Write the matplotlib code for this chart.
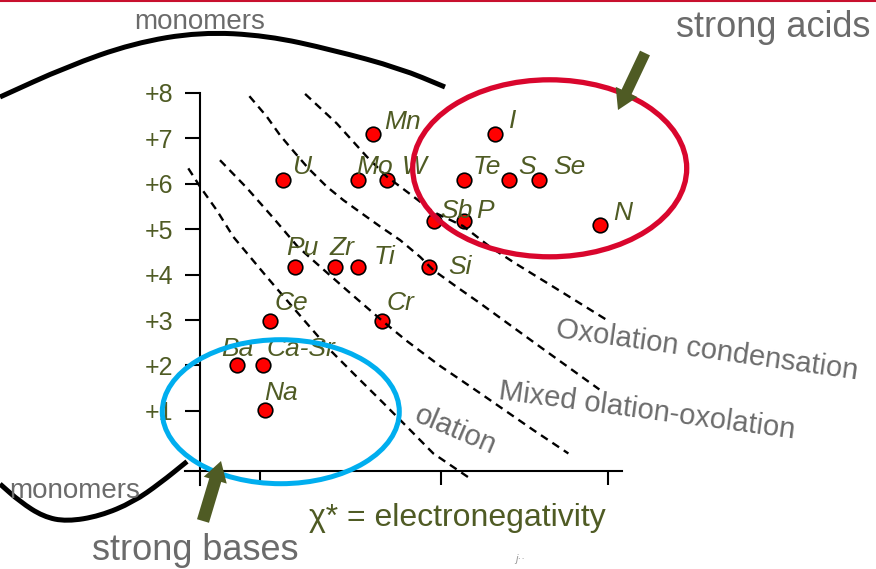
import matplotlib
matplotlib.use('Agg')
import matplotlib.pyplot as plt
from matplotlib.patches import Ellipse, FancyArrow, PathPatch
from matplotlib.path import Path

plt.rcParams['font.family'] = ['Liberation Sans', 'DejaVu Sans']

OLIVE = '#4f5b24'
GREY = '#6b6b6b'
RED_RING = '#d9062d'
BLUE_RING = '#00aeef'

# oxidation state (y) against electronegativity (x)
elements = ['U', 'Mn', 'Mo', 'W', 'I', 'Te', 'S', 'Se', 'Sb', 'P', 'N',
            'Pu', 'Zr', 'Ti', 'Si', 'Ce', 'Cr', 'Ba', 'Ca-Sr', 'Na']
chi = [1.13, 1.65, 1.565, 1.73, 2.35, 2.17, 2.43, 2.605, 2.0, 2.17, 2.955,
       1.20, 1.43, 1.565, 1.97, 1.06, 1.70, 0.87, 1.02, 1.03]
charge = [6.08, 7.09, 6.08, 6.08, 7.09, 6.08, 6.08, 6.08, 5.17, 5.17, 5.09,
          4.17, 4.17, 4.17, 4.17, 2.98, 2.98, 2.01, 2.01, 1.02]

y_ticks = [1, 2, 3, 4, 5, 6, 7, 8]
y_ticklabels = ['+1', '+2', '+3', '+4', '+5', '+6', '+7', '+8']
x_ticks = [1.0, 2.04, 3.0]

# dashed boundaries between olation / mixed / oxolation domains
bound_a_x = [0.588, 0.655, 0.751, 0.847, 0.943, 1.039, 1.153, 1.268, 1.402, 1.556, 1.709, 1.862, 1.996, 2.207]
bound_a_y = [6.34, 5.94, 5.42, 4.83, 4.39, 3.95, 3.44, 2.93, 2.34, 1.75, 1.17, 0.58, 0.06, -0.49]
bound_b_x = [0.770, 0.924, 1.076, 1.218, 1.362, 1.498, 1.703, 1.843, 2.034, 2.264, 2.569, 2.772]
bound_b_y = [6.52, 5.91, 5.25, 4.61, 4.12, 3.66, 2.98, 2.54, 1.99, 1.39, 0.58, 0.06]
bound_c_x = [0.939, 1.039, 1.115, 1.201, 1.278, 1.383, 1.479, 1.584, 1.690, 1.805, 1.920, 1.996, 2.130, 2.264, 2.609, 2.950]
bound_c_y = [7.93, 7.48, 7.07, 6.68, 6.34, 5.94, 5.64, 5.35, 5.06, 4.76, 4.39, 4.10, 3.73, 3.37, 2.41, 1.47]
bound_d_x = [1.259, 1.441, 1.613, 1.728, 1.881, 1.996, 2.167, 2.322, 2.466, 2.724, 2.993]
bound_d_y = [7.98, 7.33, 6.60, 6.16, 5.72, 5.38, 5.07, 4.61, 4.25, 3.64, 3.00]

# "monomers" guide curves, in slide pixels
top_curve = [(0, 97), (66.7, 66.7), (133, 43.3), (200, 32), (266.7, 35.5),
             (333, 50), (400, 68.3), (445, 87)]
bottom_curve = [(0, 484), (20, 501.7), (43.3, 516.7), (66.7, 521.5), (100, 516),
                (133.3, 502), (160, 483.3), (187, 461.5)]

# label offsets (points) from each dot
label_offsets = [(6.5, 4.8), (7.9, 3.6), (-1.2, 4.8), (10.8, 4.8), (10.1, 4.3),
                 (6.8, 4.8), (6.5, 4.8), (10.1, 4.8), (4.8, 2.4), (9.1, 2.4),
                 (9.6, 3.6), (-6.5, 8.4), (-3.6, 8.4), (10.8, 1.9), (13.7, -4.8),
                 (2.9, 7.7), (3.6, 7.7), (-11.5, 6.5), (1.9, 6.5), (-0.5, 7.2)]


def smooth_path(pts):
    # quadratic smoothing through the midpoints of the polyline
    verts = [pts[0], ((pts[0][0] + pts[1][0]) / 2, (pts[0][1] + pts[1][1]) / 2)]
    codes = [Path.MOVETO, Path.LINETO]
    for i in range(1, len(pts) - 1):
        mid = ((pts[i][0] + pts[i + 1][0]) / 2, (pts[i][1] + pts[i + 1][1]) / 2)
        verts += [pts[i], mid]
        codes += [Path.CURVE3, Path.CURVE3]
    verts.append(pts[-1])
    codes.append(Path.LINETO)
    return Path(verts, codes)


fig = plt.figure(figsize=(8.76, 5.69), dpi=100)
fig.patch.set_facecolor('white')

ax = fig.add_axes([185 / 876, 84 / 569, 437 / 876, 392 / 569])
ax.set_xlim(0.569, 3.080)
ax.set_ylim(-0.634, 8.0)
ax.patch.set_alpha(0)
for side in ['top', 'right']:
    ax.spines[side].set_visible(False)
ax.spines['left'].set_position(('data', 0.655))
ax.spines['bottom'].set_position(('data', -0.319))
ax.spines['left'].set_linewidth(1.5)
ax.spines['bottom'].set_linewidth(1.5)
ax.set_yticks(y_ticks)
ax.set_yticklabels(y_ticklabels)
ax.set_xticks(x_ticks)
ax.set_xticklabels([])
ax.tick_params(axis='y', direction='out', length=10.5, width=1.5, pad=9.0,
               labelsize=18, labelcolor=OLIVE)
ax.tick_params(axis='x', direction='out', length=10.3, width=1.5)

ax.plot(chi, charge, 'o', ms=10.5, mfc='#ff0000', mec='black', mew=1.2,
        zorder=3, clip_on=False)
for bx, by in [(bound_a_x, bound_a_y), (bound_b_x, bound_b_y),
               (bound_c_x, bound_c_y), (bound_d_x, bound_d_y)]:
    ax.plot(bx, by, color='black', lw=1.7, ls=(0, (3.4, 2.4)), zorder=4,
            clip_on=False)

for name, x, y, off in zip(elements, chi, charge, label_offsets):
    ax.annotate(name, (x, y), xytext=off, textcoords='offset points',
                ha='left', va='baseline', fontsize=19, style='italic',
                color=OLIVE, zorder=5)

# overlay in pixel coordinates for the slide decorations
cv = fig.add_axes([0, 0, 1, 1])
cv.set_xlim(0, 876)
cv.set_ylim(569, 0)
cv.axis('off')
cv.patch.set_alpha(0)

cv.plot([0, 876], [1, 1], color='#c8102e', lw=1.5)

for pts in [top_curve, bottom_curve]:
    cv.add_patch(PathPatch(smooth_path(pts), fill=False,
                           edgecolor='black', lw=3.6, capstyle='butt'))

cv.add_patch(Ellipse((549.7, 168.3), 274, 177, fill=False,
                     edgecolor=RED_RING, lw=3.8))
cv.add_patch(Ellipse((280.8, 411.7), 237, 144, fill=False,
                     edgecolor=BLUE_RING, lw=3.6))

cv.add_patch(FancyArrow(645, 53, -27, 57, width=11, head_width=24,
                        head_length=20, length_includes_head=True,
                        color=OLIVE, lw=0))
cv.add_patch(FancyArrow(203, 521, 18, -60, width=12.5, head_width=24,
                        head_length=20, length_includes_head=True,
                        color=OLIVE, lw=0))

cv.text(200, 29, 'monomers', ha='center', va='baseline', fontsize=20, color=GREY)
cv.text(75, 498, 'monomers', ha='center', va='baseline', fontsize=20, color=GREY)
cv.text(773, 37, 'strong acids', ha='center', va='baseline', fontsize=26, color=GREY)
cv.text(195, 560, 'strong bases', ha='center', va='baseline', fontsize=26, color=GREY)
cv.text(457, 526, 'χ* = electronegativity', ha='center', va='baseline',
        fontsize=23, color=OLIVE)
cv.text(706.7, 350, 'Oxolation condensation', ha='center', va='center',
        rotation=-8, rotation_mode='anchor', fontsize=21, color=GREY)
cv.text(646.7, 410.7, 'Mixed olation-oxolation', ha='center', va='center',
        rotation=-7.6, rotation_mode='anchor', fontsize=21, color=GREY)
cv.text(455, 430, 'olation', ha='center', va='center',
        rotation=-23, rotation_mode='anchor', fontsize=21, color=GREY)
cv.text(520, 562, 'j··', ha='center', va='baseline', fontsize=8,
        color='#9a9a9a', style='italic')

fig.savefig('out.png', dpi=100)
